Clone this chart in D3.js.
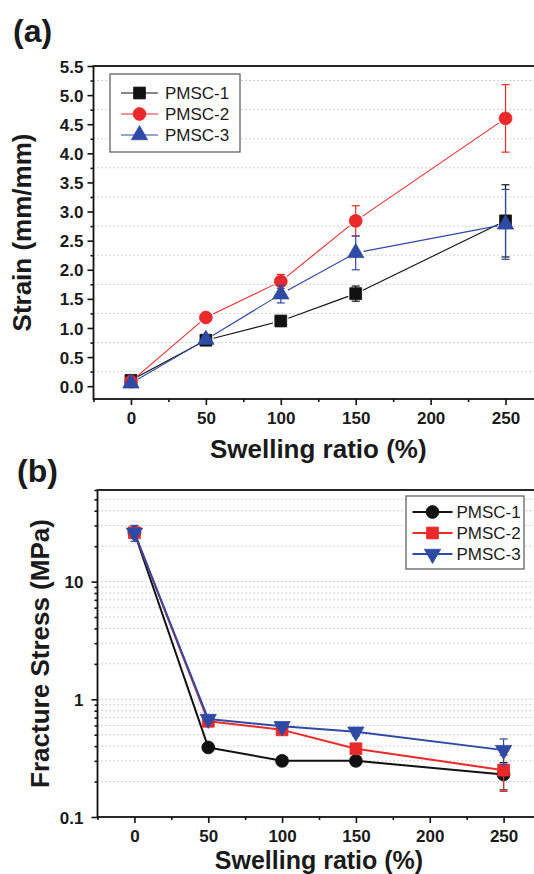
<!DOCTYPE html>
<html>
<head>
<meta charset="utf-8">
<script src="https://cdn.jsdelivr.net/npm/d3@7"></script>
<style>
  body { margin: 0; background: #fff; }
  svg { display: block; font-family: "Liberation Sans", Arial, sans-serif; }
</style>
</head>
<body>
<div id="chart"></div>
<script>
// swelling ratio (%) shared by both panels
const swelling = [0, 50, 100, 150, 250];
const seriesNames = ["PMSC-1", "PMSC-2", "PMSC-3"];

// (a) strain (mm/mm) and error
const strain1 = [0.10, 0.79, 1.12, 1.59, 2.84];
const strain2 = [0.08, 1.18, 1.80, 2.84, 4.60];
const strain3 = [0.05, 0.80, 1.58, 2.29, 2.78];
const strainErr1 = [0.04, 0.05, 0.08, 0.13, 0.62];
const strainErr2 = [0.04, 0.06, 0.12, 0.26, 0.58];
const strainErr3 = [0.05, 0.06, 0.15, 0.29, 0.60];

// (b) fracture stress (MPa) and error
const stress1 = [26, 0.39, 0.30, 0.30, 0.23];
const stress2 = [26, 0.65, 0.55, 0.38, 0.25];
const stress3 = [26, 0.68, 0.59, 0.53, 0.37];
const stressErr1 = [2, 0.02, 0.02, 0.02, 0.06];
const stressErr2 = [2, 0.03, 0.03, 0.03, 0.085];
const stressErr3 = [4, 0.04, 0.03, 0.04, 0.09];

const strainTicks = [0, 0.5, 1, 1.5, 2, 2.5, 3, 3.5, 4, 4.5, 5, 5.5];
const stressTicks = [0.1, 1, 10];
const xTicks = [0, 50, 100, 150, 200, 250];

const colors = ["#111111", "#ea2a2a", "#2f4aa5"];
const W = 534, H = 874;

const svg = d3.select("#chart").append("svg")
  .attr("width", W).attr("height", H);

const symbolFor = {
  square: d3.symbolSquare, circle: d3.symbolCircle,
  triUp: d3.symbolTriangle, triDown: d3.symbolTriangle
};

function drawMarker(g, shape, x, y, color) {
  const size = shape === "square" ? 140 : shape === "circle" ? 130 : 115;
  g.append("path")
    .attr("d", d3.symbol().type(symbolFor[shape]).size(size)())
    .attr("transform", `translate(${x},${y})` + (shape === "triDown" ? " rotate(180)" : ""))
    .attr("fill", color)
    .attr("stroke", color)
    .attr("stroke-width", 0.8);
}

function drawPanel(cfg) {
  const x = d3.scaleLinear().domain([-25, 275]).range([cfg.left, cfg.right]);
  const y = cfg.log
    ? d3.scaleLog().domain(cfg.yDomain).range([cfg.bottom, cfg.top])
    : d3.scaleLinear().domain(cfg.yDomain).range([cfg.bottom, cfg.top]);
  const g = svg.append("g");

  // dotted grid
  g.append("g").selectAll("line").data(cfg.grid).join("line")
    .attr("x1", cfg.left).attr("x2", cfg.right)
    .attr("y1", d => y(d)).attr("y2", d => y(d))
    .attr("stroke", "#c4c4c4").attr("stroke-width", 1)
    .attr("stroke-dasharray", "1.5,2.5");

  // frame
  g.append("rect")
    .attr("x", cfg.left).attr("y", cfg.top)
    .attr("width", cfg.right - cfg.left).attr("height", cfg.bottom - cfg.top)
    .attr("fill", "none").attr("stroke", "#111").attr("stroke-width", 1.8);

  // axes
  const yAxis = g.append("g").attr("transform", `translate(${cfg.left},0)`)
    .call(d3.axisLeft(y).tickValues(cfg.yTicks).tickSize(6).tickSizeOuter(0)
      .tickPadding(cfg.yPad).tickFormat(cfg.yFormat));
  g.append("g").attr("transform", `translate(${cfg.left},0)`)
    .call(d3.axisLeft(y).tickValues(cfg.yMinor).tickSize(3).tickSizeOuter(0).tickFormat(""));
  g.append("g").attr("transform", `translate(0,${cfg.bottom})`)
    .call(d3.axisBottom(x).tickValues(xTicks).tickSize(6).tickSizeOuter(0)
      .tickPadding(cfg.xPad).tickFormat(d3.format("d")));
  g.append("g").attr("transform", `translate(0,${cfg.bottom})`)
    .call(d3.axisBottom(x).tickValues([-25, 25, 75, 125, 175, 225, 275]).tickSize(3).tickSizeOuter(0).tickFormat(""));
  g.selectAll(".domain").remove();
  g.selectAll(".tick line").attr("stroke", "#111").attr("stroke-width", 1.6);
  g.selectAll(".tick text").attr("fill", "#1a1a1a")
    .attr("font-size", 17).attr("font-weight", "bold");
  yAxis.selectAll(".tick text").attr("dy", "0.36em");

  // series
  cfg.series.forEach((s, i) => {
    const pts = swelling.map((v, j) => ({ x: x(v), y: y(s.values[j]), v: s.values[j], e: s.err[j] }));
    const sg = g.append("g");
    for (let j = 0; j < pts.length - 1; j++) {
      const a = pts[j], b = pts[j + 1];
      const dx = b.x - a.x, dy = b.y - a.y, len = Math.hypot(dx, dy);
      const gap = cfg.gap / len;
      sg.append("line")
        .attr("x1", a.x + dx * gap).attr("y1", a.y + dy * gap)
        .attr("x2", b.x - dx * gap).attr("y2", b.y - dy * gap)
        .attr("stroke", colors[i]).attr("stroke-width", cfg.lineW);
    }
    pts.forEach(p => {
      const y1 = y(p.v + p.e), y2 = y(Math.max(p.v - p.e, cfg.yDomain[0]));
      sg.append("line").attr("x1", p.x).attr("x2", p.x).attr("y1", y1).attr("y2", y2)
        .attr("stroke", colors[i]).attr("stroke-width", 1.2);
      [y1, y2].forEach(yy => sg.append("line")
        .attr("x1", p.x - 4).attr("x2", p.x + 4).attr("y1", yy).attr("y2", yy)
        .attr("stroke", colors[i]).attr("stroke-width", 1.2));
    });
    pts.forEach(p => drawMarker(sg, s.shape, p.x, p.y, colors[i]));
  });

  // legend
  const L = cfg.legend;
  g.append("rect").attr("x", L.x).attr("y", L.y).attr("width", L.w).attr("height", L.h)
    .attr("fill", "#fff").attr("stroke", "#555").attr("stroke-width", 1.2);
  cfg.series.forEach((s, i) => {
    const ry = L.rows[i];
    g.append("line").attr("x1", L.lx1).attr("x2", L.lx2).attr("y1", ry).attr("y2", ry)
      .attr("stroke", colors[i]).attr("stroke-width", cfg.lineW);
    drawMarker(g, s.shape, (L.lx1 + L.lx2) / 2, ry, colors[i]);
    g.append("text").attr("x", L.tx).attr("y", ry).attr("dy", "0.36em")
      .attr("font-size", 17).attr("fill", "#1a1a1a").text(seriesNames[i]);
  });

  // titles
  g.append("text").attr("x", (cfg.left + cfg.right) / 2).attr("y", cfg.xTitleY)
    .attr("text-anchor", "middle").attr("font-size", cfg.xTitleSize).attr("font-weight", "bold")
    .attr("fill", "#1a1a1a").text("Swelling ratio (%)");
  g.append("text")
    .attr("transform", `translate(${cfg.yTitleX},${(cfg.top + cfg.bottom) / 2}) rotate(-90)`)
    .attr("text-anchor", "middle").attr("font-size", 26).attr("font-weight", "bold")
    .attr("fill", "#1a1a1a").text(cfg.yTitle);
  g.append("text").attr("x", cfg.tag[0]).attr("y", cfg.tag[1])
    .attr("font-size", 32).attr("font-weight", "bold").attr("fill", "#1a1a1a").text(cfg.tagText);
}

drawPanel({
  left: 93.5, right: 543, top: 66, bottom: 399,
  yDomain: [-0.22, 5.5], log: false,
  yTicks: strainTicks,
  yMinor: d3.range(0.25, 5.5, 0.5),
  grid: d3.range(0.25, 5.5, 0.5),
  yFormat: d3.format(".1f"), yPad: 4, xPad: 7,
  gap: 8, lineW: 1.1,
  series: [
    { values: strain1, err: strainErr1, shape: "square" },
    { values: strain2, err: strainErr2, shape: "circle" },
    { values: strain3, err: strainErr3, shape: "triUp" }
  ],
  legend: { x: 110, y: 74, w: 130, h: 78, rows: [93, 114, 135], lx1: 121, lx2: 158, tx: 165 },
  xTitleY: 458, xTitleSize: 26, yTitleX: 31, yTitle: "Strain (mm/mm)",
  tag: [13, 42], tagText: "(a)"
});

const logMinor = [];
[0.1, 1, 10].forEach(d => [2, 3, 4, 5, 6, 7, 8, 9].forEach(k => { if (d * k <= 60) logMinor.push(d * k); }));

drawPanel({
  left: 97.5, right: 540.5, top: 490, bottom: 817,
  yDomain: [0.1, 60], log: true,
  yTicks: stressTicks,
  yMinor: logMinor,
  grid: logMinor.concat([1, 10]),
  yFormat: d => String(d), yPad: 8, xPad: 7,
  gap: 0, lineW: 2,
  series: [
    { values: stress1, err: stressErr1, shape: "circle" },
    { values: stress2, err: stressErr2, shape: "square" },
    { values: stress3, err: stressErr3, shape: "triDown" }
  ],
  legend: { x: 406, y: 496, w: 118, h: 73, rows: [512, 533, 554], lx1: 412.5, lx2: 452.5, tx: 456.5 },
  xTitleY: 868.5, xTitleSize: 25, yTitleX: 49, yTitle: "Fracture Stress (MPa)",
  tag: [17, 482], tagText: "(b)"
});
</script>
</body>
</html>
